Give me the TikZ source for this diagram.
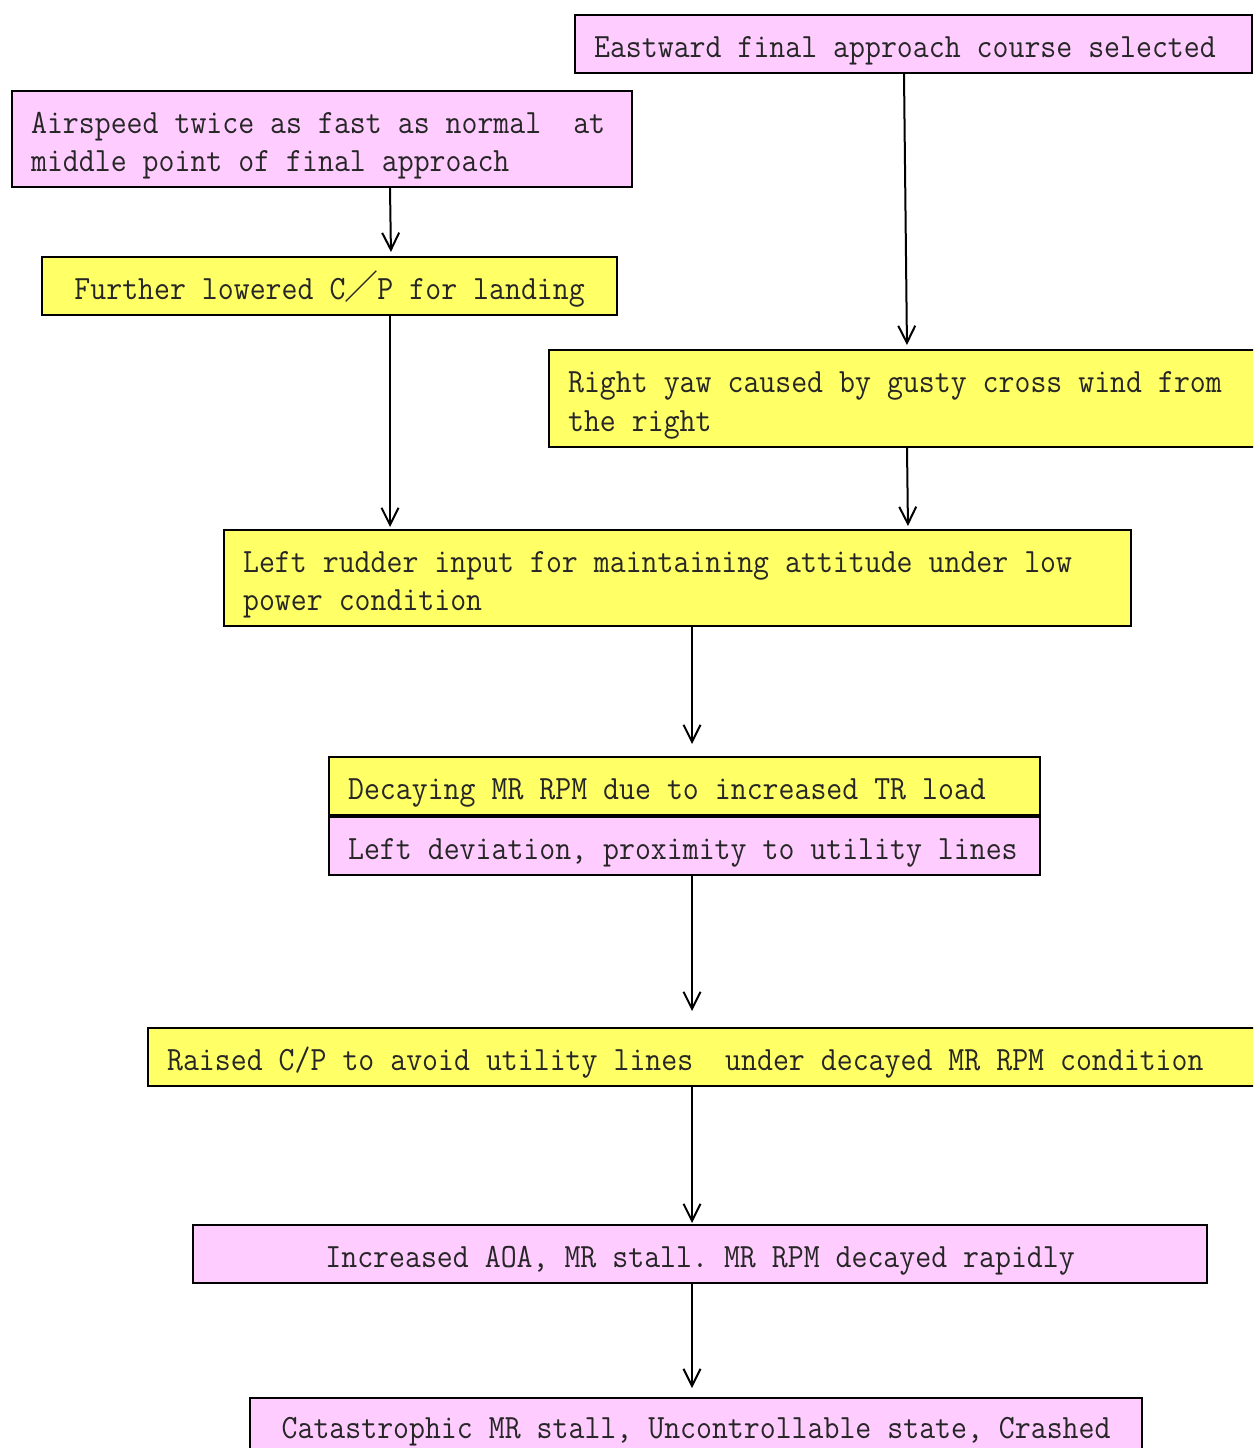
\documentclass[tikz,border=0pt]{standalone}
\usepackage{fontspec}
\usetikzlibrary{arrows.meta,calc}
\newfontfamily\monof[FakeStretch=0.91]{Latin Modern Mono}
\newfontfamily\cjk{Noto Sans CJK SC}
\definecolor{pinkc}{HTML}{FFCCFF}
\definecolor{yelc}{HTML}{FFFF66}
\newcommand{\boxfont}{\monof\fontsize{34}{38.5}\selectfont}
\newcommand{\fixsp}{\spaceskip 16pt\relax\xspaceskip 16pt\relax}
\newcommand{\onel}[2]{\makebox[#1][l]{\fixsp #2}}
\newcommand{\onec}[2]{\makebox[#1][c]{\fixsp #2}}
\newcommand{\twol}[3]{\parbox[t]{#1}{\raggedright\fixsp #2\\#3}}
\tikzset{
  x=1pt,y=-1pt,
  box/.style={draw, line width=2.2pt, inner xsep=19pt, inner ysep=0pt, anchor=north west,
    font=\boxfont, text=black!85},
  one/.style={minimum height=58pt, text height=26pt, text depth=0pt},
  two/.style={minimum height=96pt, text height=0pt, text depth=12pt},
  pbox/.style={box, fill=pinkc},
  ybox/.style={box, fill=yelc},
  arr/.style={draw, line width=2pt, -{Straight Barb[length=17pt,width=17pt,line width=2pt]}},
}
\begin{document}
\begin{tikzpicture}
\clip (0,0) rectangle (1253,1448);
\fill[white] (0,0) rectangle (1253,1448);

\node[pbox, one, minimum width=677] (east) at (574,14)
  {\onel{639pt}{Eastward final approach course selected}};
\node[pbox, two, minimum width=620] (air) at (11,90)
  {\twol{582pt}{Airspeed twice as fast as normal\hspace*{32pt}at}{middle point of final approach}};
\node[ybox, one, minimum width=575] (fur) at (41,256)
  {\onec{537pt}{Further lowered C\makebox[32pt]{\cjk ／}P for landing}};
\node[ybox, two, minimum width=716, minimum height=97] (yaw) at (548,349)
  {\twol{678pt}{Right yaw caused by gusty cross wind from}{the right}};
\node[ybox, two, minimum width=907] (rud) at (223,529)
  {\twol{869pt}{Left rudder input for maintaining attitude under low}{power condition}};
\node[ybox, one, minimum width=711] (dec) at (328,756)
  {\onel{673pt}{Decaying MR RPM due to increased TR load}};
\node[pbox, one, minimum width=711] (dev) at (328,816)
  {\onel{673pt}{Left deviation, proximity to utility lines}};
\node[ybox, one, minimum width=1120] (rai) at (147,1027)
  {\onel{1082pt}{Raised C/P to avoid utility lines\hspace*{32pt}under decayed MR RPM condition}};
\node[pbox, one, minimum width=1014] (aoa) at (192,1224)
  {\onec{976pt}{Increased AOA, MR stall. MR RPM decayed rapidly}};
\node[pbox, minimum width=892, minimum height=70pt, text height=10pt, text depth=0pt] (cat) at (249,1397)
  {\onec{854pt}{Catastrophic MR stall, Uncontrollable state, Crashed}};

\draw[arr, shorten >=4pt] (390,0 |- air.south) -- (391,0 |- fur.north);
\draw[arr, shorten >=4pt] (904,0 |- east.south) -- (907,0 |- yaw.north);
\draw[arr, shorten >=2pt] (390,0 |- fur.south) -- (390,0 |- rud.north);
\draw[arr, shorten >=3pt] (907,0 |- yaw.south) -- (908,0 |- rud.north);
\draw[arr, shorten >=12pt] (692,0 |- rud.south) -- (692,0 |- dec.north);
\draw[arr, shorten >=16pt] (692,0 |- dev.south) -- (692,0 |- rai.north);
\draw[arr, shorten >=1pt] (692,0 |- rai.south) -- (692,0 |- aoa.north);
\draw[arr, shorten >=9pt] (692,0 |- aoa.south) -- (692,0 |- cat.north);
\end{tikzpicture}
\end{document}
